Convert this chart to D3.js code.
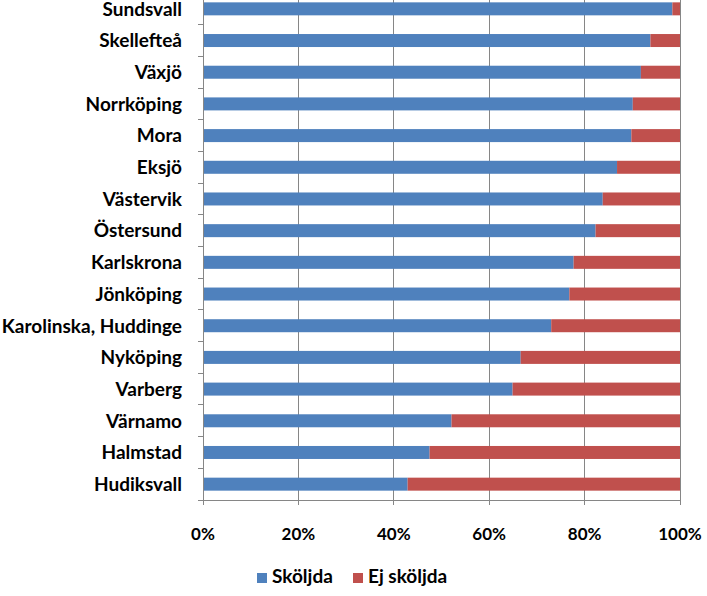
<!DOCTYPE html>
<html><head><meta charset="utf-8">
<script src="https://cdn.jsdelivr.net/npm/d3@7"></script>
<style>body{margin:0;background:#fff;} svg{display:block;}</style>
</head><body>
<svg id="chart" width="707" height="596"></svg>
<script>
const categories = ["Sundsvall","Skellefteå","Växjö","Norrköping","Mora","Eksjö","Västervik","Östersund","Karlskrona","Jönköping","Karolinska, Huddinge","Nyköping","Varberg","Värnamo","Halmstad","Hudiksvall"];
const skoljda = [98.4,93.8,91.8,90.1,89.8,86.8,83.8,82.3,77.7,76.8,73.0,66.6,64.9,52.1,47.5,42.9];
const ejSkoljda = skoljda.map(v => 100 - v);
const seriesNames = ["Sköljda","Ej sköljda"];
const colors = ["#4F81BD","#C0504D"];
const xTicks = [0,20,40,60,80,100];

(function(){
const svg = d3.select("#chart");
const font = "Lato, 'Open Sans', sans-serif";
const pLeft = 203, pRight = 680, pTop = -7, pBottom = 500;

const x = d3.scaleLinear().domain([0,100]).range([pLeft,pRight]);
const y = d3.scaleBand().domain(categories).range([pTop,pBottom]).paddingInner(0.59).paddingOuter(0.295);

// gridlines
svg.append("g").selectAll("line").data(xTicks.slice(1)).join("line")
  .attr("x1", d=>x(d)).attr("x2", d=>x(d)).attr("y1", pTop).attr("y2", pBottom)
  .attr("stroke","#868686").attr("stroke-width",1).attr("shape-rendering","crispEdges");

// bars
const stacked = categories.map((c,i)=>({c, parts:[[0,skoljda[i]],[skoljda[i],skoljda[i]+ejSkoljda[i]]]}));
[0,1].forEach(s=>{
  svg.append("g").selectAll("rect").data(stacked).join("rect")
    .attr("x", d=>x(d.parts[s][0])).attr("width", d=>x(d.parts[s][1])-x(d.parts[s][0]))
    .attr("y", d=>y(d.c)).attr("height", y.bandwidth())
    .attr("fill", colors[s]);
});

// y axis
const yAxisG = svg.append("g").attr("transform",`translate(${pLeft},0)`);
yAxisG.append("line").attr("x1",0).attr("x2",0).attr("y1",pTop).attr("y2",pBottom+5)
  .attr("stroke","#868686").attr("shape-rendering","crispEdges");
const bounds = d3.range(categories.length+1).map(i=>pTop + i*y.step());
yAxisG.selectAll("line.t").data(bounds).join("line").attr("class","t")
  .attr("x1",-5).attr("x2",0).attr("y1",d=>d).attr("y2",d=>d)
  .attr("stroke","#868686").attr("shape-rendering","crispEdges");
yAxisG.selectAll("text").data(categories).join("text")
  .attr("x",-21).attr("y",d=>y(d)+y.bandwidth()/2).attr("dy","0.36em")
  .attr("text-anchor","end").attr("font-family",font).attr("font-weight","bold")
  .attr("font-size","19px").attr("fill","#000").text(d=>d);

// x axis
const xAxisG = svg.append("g").attr("transform",`translate(0,${pBottom})`);
xAxisG.append("line").attr("x1",pLeft).attr("x2",pRight).attr("stroke","#868686").attr("shape-rendering","crispEdges");
xAxisG.selectAll("line.t").data(xTicks).join("line").attr("class","t")
  .attr("x1",d=>x(d)).attr("x2",d=>x(d)).attr("y1",0).attr("y2",5)
  .attr("stroke","#868686").attr("shape-rendering","crispEdges");
xAxisG.selectAll("text").data(xTicks).join("text")
  .attr("x",d=>x(d)).attr("y",40).attr("text-anchor","middle")
  .attr("font-family",font).attr("font-weight","bold").attr("font-size","17px").attr("fill","#000")
  .text(d=>d+"%");

// legend
const legendX = [257, 353];
const lg = svg.append("g");
seriesNames.forEach((n,i)=>{
  lg.append("rect").attr("x",legendX[i]).attr("y",573).attr("width",10).attr("height",10).attr("fill",colors[i]);
  lg.append("text").attr("x",legendX[i]+15).attr("y",583).attr("font-family",font).attr("font-weight","bold")
    .attr("font-size","19px").attr("fill","#000").text(n);
});
})();
</script>
</body></html>
